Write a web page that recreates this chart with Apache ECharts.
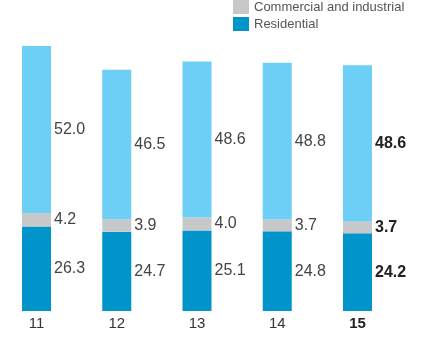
<!DOCTYPE html>
<html>
<head>
<meta charset="utf-8">
<script src="https://cdn.jsdelivr.net/npm/echarts@6/dist/echarts.min.js"></script>
<style>
  html, body { margin: 0; padding: 0; background: #fff; overflow: hidden; }
  /* canvas is shifted 4px left so the first bar can sit close to the edge */
  #chart { position: relative; left: -4px; width: 425px; height: 339px; }
</style>
</head>
<body>
<div id="chart"></div>
<script>
// Years (two-digit) along the category axis
var years = ['11', '12', '13', '14', '15'];
// Stacked segments, bottom to top
var residential = [26.3, 24.7, 25.1, 24.8, 24.2];
var commercial = [4.2, 3.9, 4.0, 3.7, 3.7];
var other = [52.0, 46.5, 48.6, 48.8, 48.6];

var FONT = '"Liberation Sans", Arial, Helvetica, sans-serif';
var lastIdx = years.length - 1;

// Latest year is emphasised in bold
function items(values) {
  return values.map(function (v, i) {
    return i === lastIdx
      ? { value: v, label: { fontWeight: 'bold', color: '#222' } }
      : v;
  });
}

function seg(name, values, color) {
  return {
    name: name,
    type: 'bar',
    stack: 'total',
    barWidth: 29,
    data: items(values),
    itemStyle: { color: color },
    label: {
      show: true,
      position: 'right',
      distance: 3,
      fontFamily: FONT,
      fontSize: 16,
      color: '#444',
      formatter: function (p) { return p.value.toFixed(1); }
    },
    emphasis: { disabled: true }
  };
}

var chart = echarts.init(document.getElementById('chart'), null, { renderer: 'canvas' });
chart.setOption({
  animation: false,
  legend: {
    orient: 'vertical',
    left: 237,
    top: 0,
    padding: 0,
    itemWidth: 16,
    itemHeight: 14,
    itemGap: 3,
    icon: 'rect',
    selectedMode: false,
    data: ['Commercial and industrial', 'Residential'],
    textStyle: { fontFamily: FONT, fontSize: 13, color: '#555' }
  },
  grid: { left: 0.4, right: 23.4, top: 22, bottom: 28, containLabel: false },
  xAxis: {
    type: 'category',
    data: years,
    axisLine: { show: false },
    axisTick: { show: false },
    axisLabel: {
      margin: 5,
      fontFamily: FONT,
      fontSize: 15,
      color: '#333',
      formatter: function (v, i) { return i === lastIdx ? '{b|' + v + '}' : v; },
      rich: { b: { fontFamily: FONT, fontSize: 15, fontWeight: 'bold', color: '#222' } }
    }
  },
  yAxis: {
    type: 'value',
    min: 0,
    max: 90,
    show: false,
    splitLine: { show: false }
  },
  series: [
    seg('Residential', residential, '#0094cb'),
    seg('Commercial and industrial', commercial, '#c7c8ca'),
    seg('Other', other, '#6dcff6')
  ]
});
</script>
</body>
</html>
